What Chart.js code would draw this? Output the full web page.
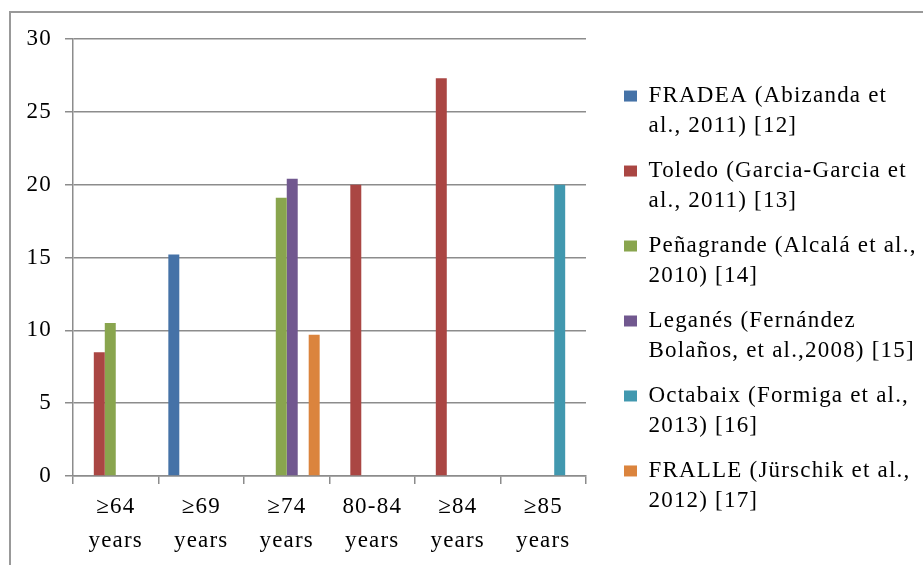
<!DOCTYPE html>
<html><head><meta charset="utf-8">
<script src="https://cdn.jsdelivr.net/npm/chart.js@4/dist/chart.umd.min.js"></script>
<style>html,body{margin:0;padding:0;background:#fff;}canvas{display:block;}</style>
</head><body>
<canvas id="c" width="923" height="565"></canvas>
<script>
// ---- data ----
const categories = [['≥64','years'],['≥69','years'],['≥74','years'],['80-84','years'],['≥84','years'],['≥85','years']];
const legendLines = [
  ['FRADEA (Abizanda et', 'al., 2011) [12]'],
  ['Toledo (Garcia-Garcia et', 'al., 2011) [13]'],
  ['Peñagrande (Alcalá et al.,', '2010) [14]'],
  ['Leganés (Fernández', 'Bolaños, et al.,2008) [15]'],
  ['Octabaix (Formiga et al.,', '2013) [16]'],
  ['FRALLE (Jürschik et al.,', '2012) [17]']
];
const fradea     = [null, 15.2, null, null, null, null];
const toledo     = [8.5, null, null, 20, 27.3, null];
const penagrande = [10.5, null, 19.1, null, null, null];
const leganes    = [null, null, 20.4, null, null, null];
const octabaix   = [null, null, null, null, null, 20];
const fralle     = [null, null, 9.7, null, null, null];
const yMin = 0, yMax = 30, yStep = 5;

// ---- styles ----
const colors = ['#4572A7', '#AA4643', '#89A54E', '#71588F', '#4198AF', '#DB843D'];
const seriesValues = [fradea, toledo, penagrande, leganes, octabaix, fralle];
const FONT = 'Liberation Serif, Times New Roman, serif';
const SPACING = '1.2px';
const gridColor = '#8c8c8c';

const datasets = seriesValues.map((v, i) => ({
  label: legendLines[i].join(' '),
  data: v,
  backgroundColor: colors[i],
  borderWidth: 0
}));

const layoutPlugin = {
  id: 'layoutTweaks',
  beforeInit(chart) {
    const lg = chart.legend;
    if (lg) {
      const orig = lg.fit;
      lg.fit = function () { orig.call(this); this.width = 923 - 586; };
    }
  },
  beforeUpdate(chart) { chart.ctx.letterSpacing = SPACING; },
  afterLayout(chart) {
    if (chart.legend) { chart.legend.left += 23; chart.legend.right += 23; }
  },
  beforeDraw(chart) {
    const ctx = chart.ctx;
    ctx.save();
    ctx.fillStyle = '#fff';
    ctx.fillRect(0, 0, chart.width, chart.height);
    ctx.strokeStyle = '#999';
    ctx.lineWidth = 2;
    ctx.beginPath();
    ctx.moveTo(10, chart.height);
    ctx.lineTo(10, 12);
    ctx.lineTo(chart.width, 12);
    ctx.stroke();
    ctx.restore();
    ctx.letterSpacing = SPACING;
  }
};

new Chart(document.getElementById('c'), {
  type: 'bar',
  data: { labels: categories, datasets },
  options: {
    responsive: false,
    animation: false,
    devicePixelRatio: 1,
    layout: { padding: { top: 39, left: 0, right: 0, bottom: 0 } },
    datasets: { bar: { barPercentage: 1, categoryPercentage: 0.77 } },
    scales: {
      x: {
        grid: { drawOnChartArea: false, drawTicks: true, tickLength: 8, color: gridColor, lineWidth: 1.5 },
        border: { display: true, color: gridColor, width: 1.5 },
        ticks: { color: '#000', padding: 6, maxRotation: 0, autoSkip: false,
                 font: { family: FONT, size: 23, lineHeight: 1.48 } },
        afterFit(scale) { scale.height = 89; }
      },
      y: {
        min: yMin, max: yMax,
        grid: { color: gridColor, lineWidth: 1.5, tickLength: 8, drawTicks: true },
        border: { display: true, color: gridColor, width: 1.5 },
        ticks: { stepSize: yStep, color: '#000', padding: 13,
                 font: { family: FONT, size: 23 } },
        afterFit(scale) { scale.width = 73; }
      }
    },
    plugins: {
      tooltip: { enabled: false },
      legend: {
        position: 'right',
        align: 'center',
        labels: {
          color: '#000',
          boxWidth: 13,
          boxHeight: 11,
          padding: 15,
          font: { family: FONT, size: 23, lineHeight: 1.304 },
          generateLabels(chart) {
            return chart.data.datasets.map((ds, i) => ({
              text: legendLines[i],
              fillStyle: ds.backgroundColor,
              strokeStyle: ds.backgroundColor,
              lineWidth: 0,
              hidden: false,
              datasetIndex: i,
              fontColor: '#000'
            }));
          }
        }
      }
    }
  },
  plugins: [layoutPlugin]
});
</script>
</body></html>
